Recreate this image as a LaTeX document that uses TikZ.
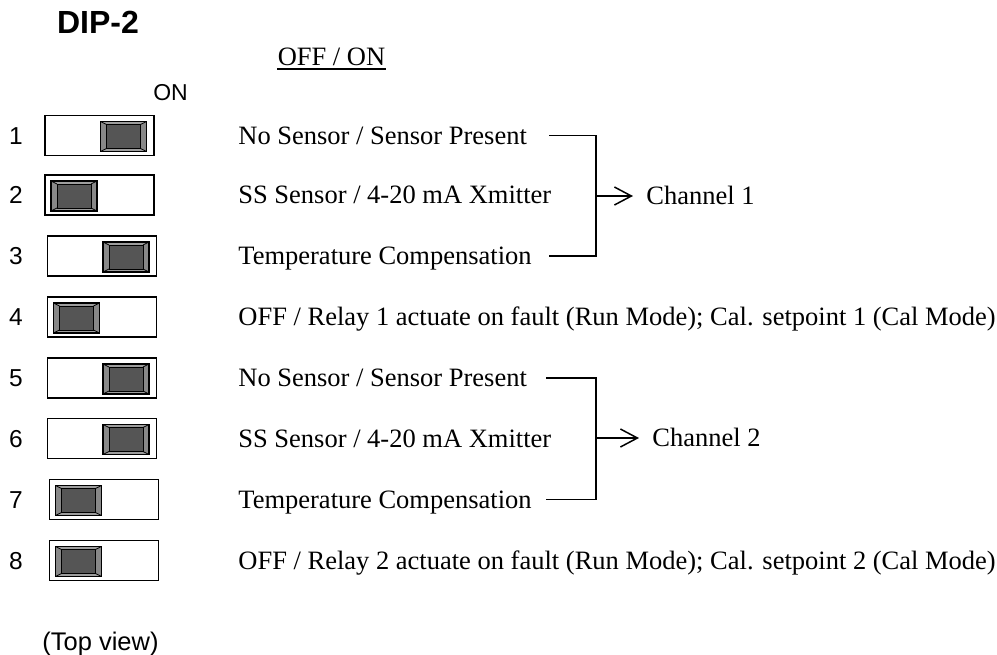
\documentclass[tikz,border=0pt]{standalone}
\usepackage{fontspec}
\setmainfont{Liberation Serif}
\newfontfamily\arialfont{Liberation Sans}
\usetikzlibrary{calc, arrows.meta}

\definecolor{knobdark}{HTML}{555555}
\definecolor{knobside}{HTML}{888888}
\definecolor{knobedge}{HTML}{9E9E9E}

\tikzset{
	knob/.pic={
		\fill[knobside] (-23,-15) -- (-17,-12) -- (-17,12) -- (-23,15) -- cycle;
		\fill[knobside] (23,-15) -- (17,-12) -- (17,12) -- (23,15) -- cycle;
		\fill[knobedge] (-23,-15) -- (23,-15) -- (17,-12) -- (-17,-12) -- cycle;
		\fill[knobedge] (-23,15) -- (23,15) -- (17,12) -- (-17,12) -- cycle;
		\filldraw[fill=knobdark, line width=0.45pt] (-17,-12) rectangle (17,12);
		\draw[line width=0.4pt] (-23,-15) -- (-17,-12) (23,-15) -- (17,-12)
			(-23,15) -- (-17,12) (23,15) -- (17,12);
		\draw[line width=0.6pt] (-23,-15) rectangle (23,15);
	}
}

\begin{document}
\begin{tikzpicture}[x=0.5pt, y=-0.5pt,
	swbox/.style={draw, line width=0.65pt, minimum width=54.5pt, minimum height=20pt, inner sep=0},
	num/.style={font=\arialfont\fontsize{12.25pt}{14pt}\selectfont, inner sep=0, text height=8.77pt, text depth=0pt},
	desc/.style={font=\fontsize{13.25pt}{16pt}\selectfont, anchor=west, inner sep=0, text height=8.77pt, text depth=0pt},
	bracket/.style={line width=0.75pt}]
	\useasboundingbox (0,0) rectangle (997,654);
	
	\node[font=\arialfont\bfseries\fontsize{16pt}{19pt}\selectfont, anchor=base] (title) at (98,33) {DIP-2};
	\node[desc, anchor=center] (hdr) at (331.5,57) {OFF / ON};
	\draw[line width=0.75pt] ([yshift=-1.5pt]hdr.south west) -- ([yshift=-1.5pt]hdr.south east);
	\node[font=\arialfont\fontsize{11.5pt}{14pt}\selectfont, anchor=base, inner sep=0] (on) at (170.5,100) {ON};
	
	\foreach \n/\x/\y/\k in {1/99.5/135.5/24, 2/99.5/195/-25.5, 3/102/256/24, 4/102/317/-25.5,
		5/102/378/24, 6/102/438.5/24, 7/104/499.5/-25.5, 8/104/560.5/-25.5} {
		\node[num] (n\n) at (16,\y) {\n};
		\node[swbox] (sw\n) at (\x,\y) {};
		\pic at ($(sw\n)+(\k,1)$) {knob};
	}
	
	\node[desc] (t1) at (238,135.5) {No Sensor / Sensor Present};
	\node[desc] (t2) at (238,195) {SS Sensor / 4-20 mA Xmitter};
	\node[desc] (t3) at (238,256) {Temperature Compensation};
	\node[desc] (t4) at (238,317) {OFF / Relay 1 actuate on fault (Run Mode); Cal. setpoint 1 (Cal Mode)};
	\node[desc] (t5) at (238,378) {No Sensor / Sensor Present};
	\node[desc] (t6) at (238,438.5) {SS Sensor / 4-20 mA Xmitter};
	\node[desc] (t7) at (238,499.5) {Temperature Compensation};
	\node[desc] (t8) at (238,560.5) {OFF / Relay 2 actuate on fault (Run Mode); Cal. setpoint 2 (Cal Mode)};
	
	\coordinate (e1) at (549,196);
	\coordinate (j1) at (596,196);
	\coordinate (e2) at (546,438);
	\coordinate (j2) at (596,438);
	\node[desc, inner xsep=6.5pt] (ch1) at (633,196) {Channel 1};
	\node[desc, inner xsep=6.5pt] (ch2) at (639,438) {Channel 2};
	
	\draw[bracket] (t1 -| e1) -- (t1 -| j1) -- (t3 -| j1) -- (t3 -| e1);
	\draw[bracket] (t5 -| e2) -- (t5 -| j2) -- (t7 -| j2) -- (t7 -| e2);
	\draw[bracket, -{Straight Barb[length=8.5pt, width=9pt]}] (j1) -- (ch1.west);
	\draw[bracket, -{Straight Barb[length=8.5pt, width=9pt]}] (j2) -- (ch2.west);
	
	\node[font=\arialfont\fontsize{12.75pt}{15pt}\selectfont, anchor=base, inner sep=0] (view) at (100.5,650) {(Top view)};
\end{tikzpicture}
\end{document}
